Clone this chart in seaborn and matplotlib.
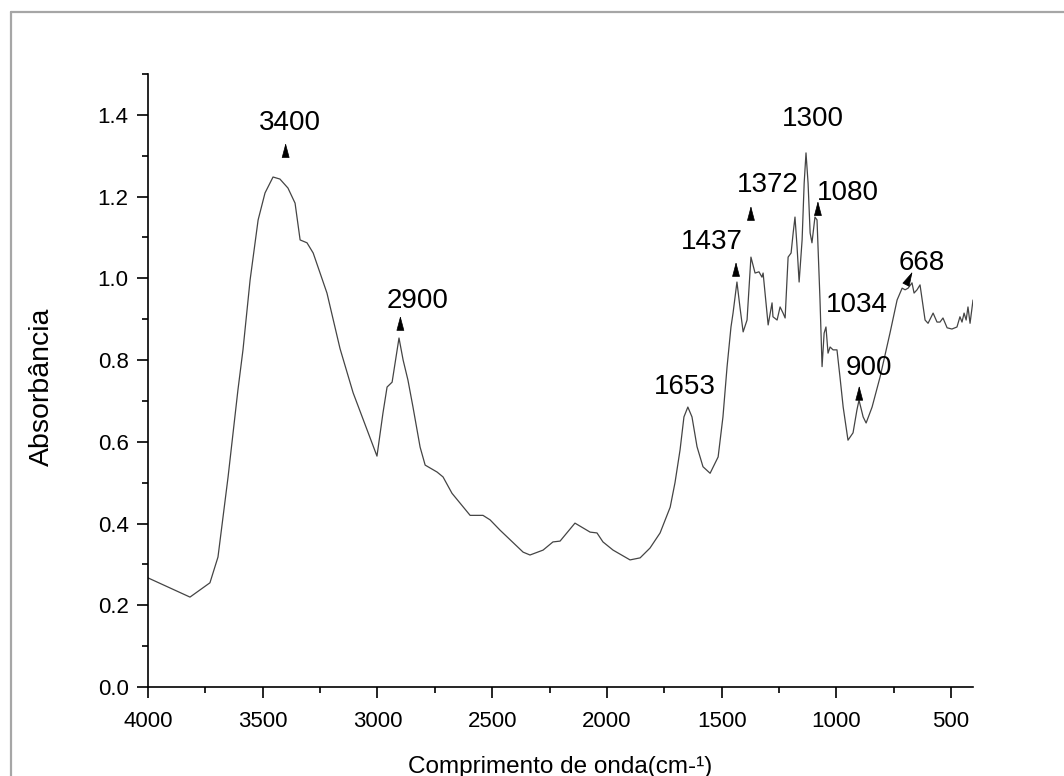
import matplotlib
matplotlib.use("Agg")
import matplotlib.pyplot as plt
from matplotlib.lines import Line2D
from matplotlib.ticker import MultipleLocator, FormatStrFormatter
import pandas as pd
import seaborn as sns

# FTIR spectrum: wavenumber (cm-1) and absorbance
wavenumber = [
    4000, 3817, 3730, 3695, 3673, 3651, 3629, 3608, 3586, 3555, 3520, 3490,
    3455, 3425, 3390, 3359, 3337, 3307, 3280, 3220, 3163, 3106, 3045, 3002,
    2976, 2958, 2936, 2906, 2888, 2867, 2845, 2814, 2792, 2740, 2714, 2675,
    2596, 2540, 2509, 2466, 2365, 2335, 2278, 2235, 2204, 2139, 2073, 2043,
    2017, 1973, 1899, 1855, 1812, 1768, 1724, 1703, 1681, 1664, 1647, 1629,
    1607, 1581, 1550, 1515, 1494, 1476, 1459, 1450, 1433, 1420, 1406, 1389,
    1372, 1354, 1337, 1324, 1319, 1297, 1280, 1276, 1258, 1245, 1232, 1223,
    1210, 1197, 1188, 1180, 1171, 1162, 1149, 1140, 1132, 1123, 1114, 1106,
    1093, 1084, 1079, 1071, 1062, 1053, 1045, 1036, 1027, 1014, 997, 984,
    970, 949, 927, 910, 901, 883, 870, 844, 809, 766, 735, 713, 700, 687,
    670, 661, 648, 635, 613, 600, 578, 561, 548, 535, 517, 496, 474, 461,
    452, 443, 434, 426, 417, 404,
]
absorbance = [
    0.267, 0.220, 0.255, 0.318, 0.416, 0.514, 0.622, 0.727, 0.825, 0.996,
    1.143, 1.209, 1.248, 1.243, 1.221, 1.184, 1.094, 1.087, 1.062, 0.964,
    0.828, 0.720, 0.629, 0.565, 0.670, 0.734, 0.746, 0.854, 0.800, 0.751,
    0.685, 0.587, 0.543, 0.526, 0.514, 0.474, 0.420, 0.420, 0.409, 0.384,
    0.330, 0.323, 0.335, 0.355, 0.357, 0.401, 0.379, 0.377, 0.355, 0.335,
    0.311, 0.316, 0.340, 0.377, 0.440, 0.500, 0.580, 0.661, 0.685, 0.661,
    0.588, 0.539, 0.523, 0.563, 0.661, 0.784, 0.881, 0.915, 0.991, 0.930,
    0.869, 0.898, 1.052, 1.013, 1.016, 1.003, 1.013, 0.886, 0.940, 0.906,
    0.898, 0.930, 0.915, 0.903, 1.052, 1.062, 1.111, 1.150, 1.077, 0.991,
    1.094, 1.233, 1.307, 1.233, 1.111, 1.087, 1.150, 1.143, 1.069, 0.947,
    0.784, 0.866, 0.881, 0.817, 0.832, 0.825, 0.825, 0.759, 0.685, 0.604,
    0.622, 0.678, 0.702, 0.661, 0.646, 0.685, 0.759, 0.866, 0.947, 0.976,
    0.972, 0.976, 0.989, 0.964, 0.972, 0.984, 0.898, 0.890, 0.915, 0.893,
    0.893, 0.903, 0.879, 0.876, 0.881, 0.906, 0.893, 0.915, 0.898, 0.930,
    0.890, 0.947,
]

# Band labels and the bands that carry a pointer
band_labels = ["3400", "2900", "1653", "1437", "1372", "1300", "1080", "1034", "900", "668"]
pointed_bands = [3400, 2900, 1437, 1372, 1080, 900, 668]

# Layout: label centres (data units) and pointer tips / directions
label_xy = [(3381, 1.380), (2823, 0.945), (1659, 0.734), (1541, 1.089),
            (1297, 1.229), (1101, 1.390), (949, 1.209), (909, 0.935),
            (857, 0.781), (626, 1.038)]
pointer_tip_y = [1.331, 0.908, 1.040, 1.177, 1.189, 0.737, 1.016]
pointer_dir = [(0, 1), (0, 1), (0, 1), (0, 1), (0, 1), (0, 1), (0.45, 0.9)]

sns.set_style("ticks")
plt.rcParams["font.family"] = ["Liberation Sans", "DejaVu Sans"]

fig = plt.figure(figsize=(10.64, 7.76), dpi=100)
ax = fig.add_axes([0.1391, 0.1147, 0.7754, 0.7899])

df = pd.DataFrame({"wavenumber": wavenumber, "absorbance": absorbance})
sns.lineplot(data=df, x="wavenumber", y="absorbance", ax=ax, sort=False,
             estimator=None, color="#444444", linewidth=0.9)

ax.set_xlim(4000, 404)
ax.set_ylim(0, 1.5)
ax.xaxis.set_major_locator(MultipleLocator(500))
ax.xaxis.set_minor_locator(MultipleLocator(250))
ax.yaxis.set_major_locator(MultipleLocator(0.2))
ax.yaxis.set_minor_locator(MultipleLocator(0.1))
ax.yaxis.set_major_formatter(FormatStrFormatter("%.1f"))

sns.despine(ax=ax)
for side in ("left", "bottom"):
    ax.spines[side].set_linewidth(1.2)
    ax.spines[side].set_color("black")
ax.tick_params(which="major", direction="out", length=8, width=1.2,
               color="black", labelsize=16, labelcolor="black")
ax.tick_params(axis="x", which="major", pad=9)
ax.tick_params(axis="y", which="major", pad=6)
ax.tick_params(which="minor", direction="out", length=4.5, width=1.2, color="black")

ax.set_xlabel("Comprimento de onda(cm-¹)", fontsize=17.5, color="black")
ax.set_ylabel("Absorbância", fontsize=20.5, color="black")
ax.xaxis.set_label_coords(0.5, -0.112)
ax.yaxis.set_label_coords(-0.113, 0.49)

for text, (tx, ty) in zip(band_labels, label_xy):
    ax.text(tx, ty, text, fontsize=20, ha="center", va="center", color="black")

head_len = 9.4
for band, tip_y, (dx, dy) in zip(pointed_bands, pointer_tip_y, pointer_dir):
    ax.annotate("", xy=(band, tip_y), xycoords="data",
                xytext=(-dx * head_len, -dy * head_len), textcoords="offset points",
                arrowprops=dict(arrowstyle=f"-|>,head_length={head_len},head_width=2.5",
                                mutation_scale=1, shrinkA=0, shrinkB=0,
                                color="black", lw=0.5))

# Outer grey frame around the figure
fx0, fy0 = 11 / 1064, 1 - 12 / 776
fig.add_artist(Line2D([fx0, 1.01], [fy0, fy0], transform=fig.transFigure,
                      color="#a6a6a6", linewidth=1.6))
fig.add_artist(Line2D([fx0, fx0], [-0.01, fy0], transform=fig.transFigure,
                      color="#a6a6a6", linewidth=1.6))

fig.savefig("out.png", dpi=100)
